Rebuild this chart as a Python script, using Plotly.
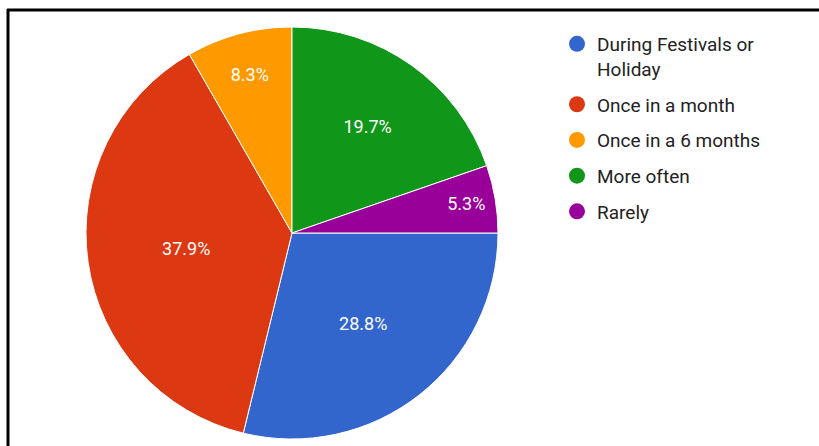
import plotly.graph_objects as go

labels = ["During Festivals or Holiday", "Once in a month", "Once in a 6 months", "More often", "Rarely"]
legend_labels = ["During Festivals or<br>Holiday", "Once in a month", "Once in a 6 months", "More often", "Rarely"]
values = [28.8, 37.9, 8.3, 19.7, 5.3]
colors = ["#3366cc", "#dc3912", "#ff9900", "#109618", "#990099"]

W, H = 819, 446
cx, cy, r = 292, 233, 206

fig = go.Figure()
fig.add_trace(go.Pie(
    labels=labels, values=values, sort=False, direction="clockwise", rotation=90,
    marker=dict(colors=colors, line=dict(color="#ffffff", width=1)),
    texttemplate="%{value:.1f}%", textposition="inside", insidetextorientation="horizontal",
    textfont=dict(family="Roboto", size=18, color="#ffffff"),
    hoverinfo="label+percent", showlegend=False,
    domain=dict(x=[(cx - r) / W, (cx + r) / W], y=[(H - cy - r) / H, (H - cy + r) / H]),
))
for i, (lab, col) in enumerate(zip(legend_labels, colors)):
    fig.add_trace(go.Scatter(
        x=[None], y=[None], mode="markers", name=lab, legendgroup=str(i),
        marker=dict(symbol="circle", size=16, color=col), showlegend=True,
    ))

fig.update_layout(
    width=W, height=H, margin=dict(l=0, r=0, t=0, b=0),
    paper_bgcolor="white", plot_bgcolor="white",
    xaxis=dict(visible=False), yaxis=dict(visible=False),
    legend=dict(x=557 / W, y=1 - 25 / H, xanchor="left", yanchor="top",
                font=dict(family="Roboto", size=19, color="#222222"),
                tracegroupgap=8, valign="top", bgcolor="rgba(0,0,0,0)"),
    shapes=[
        dict(type="line", xref="paper", yref="paper", x0=7 / W, x1=1, y0=1 - 10 / H, y1=1 - 10 / H,
             line=dict(color="black", width=3)),
        dict(type="line", xref="paper", yref="paper", x0=8 / W, x1=8 / W, y0=1 - 9 / H, y1=0,
             line=dict(color="black", width=3)),
    ],
)
fig.write_html("out.html", config={"displayModeBar": False},
               post_script="document.body.style.margin='0';document.body.style.overflow='hidden';")
